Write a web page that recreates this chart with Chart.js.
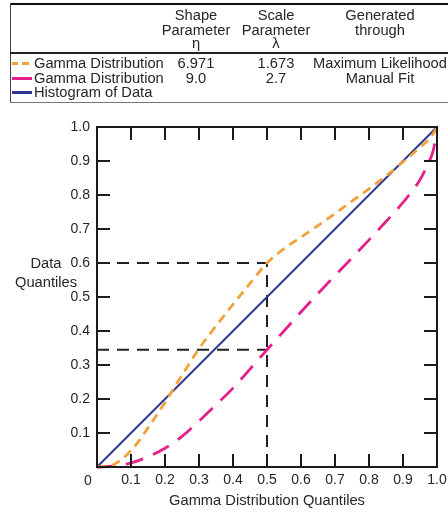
<!DOCTYPE html>
<html><head><meta charset="utf-8">
<script src="https://cdn.jsdelivr.net/npm/chart.js@4.4.0/dist/chart.umd.min.js"></script>
<style>
html,body{margin:0;padding:0;background:#fff;}
#wrap{position:relative;width:448px;height:512px;overflow:hidden;font-family:"Liberation Sans",Arial,sans-serif;color:#262626;}
canvas{position:absolute;left:0;top:0;}
.t{position:absolute;font-size:14.7px;line-height:14px;white-space:nowrap;}
.c{transform:translateX(-50%);}
.ln{position:absolute;}
</style></head><body>
<div id="wrap"><canvas id="c" width="448" height="512"></canvas><div id="legend"></div></div>
<script>
// ---- data ----
const quantileX = [0, 0.05, 0.1, 0.15, 0.2, 0.25, 0.3, 0.35, 0.4, 0.45, 0.5, 0.55, 0.6, 0.65, 0.7, 0.75, 0.8, 0.85, 0.9, 0.95, 0.975, 0.99, 1.0];
const mlFitY = [0, 0.008, 0.048, 0.115, 0.19, 0.27, 0.348, 0.415, 0.478, 0.54, 0.6, 0.642, 0.676, 0.71, 0.745, 0.782, 0.818, 0.856, 0.897, 0.94, 0.963, 0.982, 1.0];
const manualFitY = [0, 0.003, 0.012, 0.03, 0.055, 0.09, 0.135, 0.183, 0.232, 0.288, 0.345, 0.4, 0.456, 0.51, 0.563, 0.615, 0.668, 0.722, 0.778, 0.845, 0.895, 0.935, 1.0];
const histX = [0, 1];
const histY = [0, 1];
const guideX = 0.5;
const guideLevels = [0.6, 0.345];
const tickValues = [0, 0.1, 0.2, 0.3, 0.4, 0.5, 0.6, 0.7, 0.8, 0.9, 1.0];

const legendNames = ['Gamma Distribution', 'Gamma Distribution', 'Histogram of Data'];
const shapeParams = ['6.971', '9.0', ''];
const scaleParams = ['1.673', '2.7', ''];
const generatedBy = ['Maximum Likelihood', 'Manual Fit', ''];
const headers = [['Shape', 'Parameter', 'η'], ['Scale', 'Parameter', 'λ'], ['Generated', 'through']];
const xTitle = 'Gamma Distribution Quantiles';
const yTitleLines = ['Data', 'Quantiles'];
const cornerLabel = '0';

// ---- styles ----
const ORANGE = '#f2a13c', MAGENTA = '#e6208a', NAVY = '#2b3790', INK = '#262626';
const FONT = '"Liberation Sans", Arial, sans-serif';

// ---- legend table (HTML) ----
const lg = document.getElementById('legend');
function box(l, t, w, h, col) { const d = document.createElement('div'); d.className = 'ln'; Object.assign(d.style, {left: l + 'px', top: t + 'px', width: w + 'px', height: h + 'px', background: col}); lg.appendChild(d); return d; }
function txt(s, x, cy, center) { const d = document.createElement('div'); d.className = 't' + (center ? ' c' : ''); d.textContent = s; d.style.left = x + 'px'; d.style.top = (cy - 7) + 'px'; lg.appendChild(d); }
box(10, 3, 450, 2, '#111');
box(10, 3, 1, 100, '#444');
box(10, 52, 450, 2, '#222');
box(10, 102, 450, 1, '#777');
const colX = [196, 276, 380];
const headY = [15, 30, 43];
headers.forEach((h, i) => h.forEach((s, j) => txt(s, colX[i], headY[j], true)));
const rowY = [63, 78, 92];
// legend symbols
box(12, 62, 6, 2.5, ORANGE); box(22, 62, 7, 2.5, ORANGE);
box(12, 77, 20, 3, MAGENTA);
box(12, 91, 20, 2.5, NAVY);
legendNames.forEach((s, i) => {
  txt(s, 34, rowY[i], false);
  if (shapeParams[i]) txt(shapeParams[i], colX[0], rowY[i], true);
  if (scaleParams[i]) txt(scaleParams[i], colX[1], rowY[i], true);
  if (generatedBy[i]) txt(generatedBy[i], colX[2], rowY[i], true);
});

// ---- chart ----
const pts = (xs, ys) => xs.map((x, i) => ({x, y: ys[i]}));
const guideSets = guideLevels.map(lv => ({
  data: [{x: 0, y: lv}, {x: guideX, y: lv}],
  borderColor: '#222', borderWidth: 2, borderDash: [12, 8], pointRadius: 0, showLine: true, order: 5
}));
guideSets.push({
  data: [{x: guideX, y: 0}, {x: guideX, y: guideLevels[0]}],
  borderColor: '#222', borderWidth: 2, borderDash: [12, 8], pointRadius: 0, showLine: true, order: 5
});

const fmt = v => Math.abs(v) < 1e-9 ? '' : Number(v).toFixed(1);

const framePlugin = {
  id: 'frame',
  afterDraw(chart) {
    const {ctx, chartArea: a, scales: {x, y}} = chart;
    ctx.save();
    ctx.strokeStyle = '#1a1a1a';
    ctx.lineWidth = 2;
    ctx.strokeRect(a.left, a.top, a.right - a.left, a.bottom - a.top);
    const L = 13;
    ctx.beginPath();
    x.ticks.forEach(t => {
      if (t.value < 1e-9 || t.value > 1 - 1e-9) return;
      const px = Math.round(x.getPixelForValue(t.value));
      ctx.moveTo(px, a.bottom); ctx.lineTo(px, a.bottom - L);
      ctx.moveTo(px, a.top); ctx.lineTo(px, a.top + L);
    });
    y.ticks.forEach(t => {
      if (t.value < 1e-9 || t.value > 1 - 1e-9) return;
      const py = Math.round(y.getPixelForValue(t.value));
      ctx.moveTo(a.left, py); ctx.lineTo(a.left + L, py);
      ctx.moveTo(a.right, py); ctx.lineTo(a.right - L, py);
    });
    ctx.stroke();
    ctx.fillStyle = INK;
    ctx.textAlign = 'center';
    ctx.textBaseline = 'middle';
    ctx.font = '14px ' + FONT;
    ctx.fillText(cornerLabel, a.left - 9, a.bottom + 14);
    ctx.font = '14.7px ' + FONT;
    ctx.fillText(yTitleLines[0], 46, 264);
    ctx.fillText(yTitleLines[1], 46, 283);
    ctx.restore();
  }
};

new Chart(document.getElementById('c'), {
  type: 'scatter',
  data: {
    datasets: [
      {label: 'Gamma Distribution (ML)', data: pts(quantileX, mlFitY), borderColor: ORANGE, borderWidth: 2.8, borderDash: [9, 6], showLine: true, pointRadius: 0, cubicInterpolationMode: 'monotone', order: 1},
      {label: 'Gamma Distribution (Manual)', data: pts(quantileX, manualFitY), borderColor: MAGENTA, borderWidth: 2.8, borderDash: [18, 11], showLine: true, pointRadius: 0, cubicInterpolationMode: 'monotone', order: 2},
      {label: 'Histogram of Data', data: pts(histX, histY), borderColor: NAVY, borderWidth: 2, showLine: true, pointRadius: 0, order: 3},
      ...guideSets
    ]
  },
  options: {
    responsive: false,
    animation: false,
    devicePixelRatio: 1,
    clip: false,
    layout: {padding: {top: 127, left: 0, right: 11, bottom: 0}},
    plugins: {legend: {display: false}, tooltip: {enabled: false}},
    scales: {
      x: {
        type: 'linear', min: 0, max: 1,
        afterBuildTicks: s => { s.ticks = tickValues.map(v => ({value: v})); },
        afterFit: s => { s.height = 45; s.paddingLeft = 0; s.paddingRight = 0; },
        grid: {display: false, drawTicks: false},
        border: {display: false},
        ticks: {autoSkip: false, maxRotation: 0, padding: 5, color: INK, font: {family: FONT, size: 14}, callback: fmt},
        title: {display: true, text: xTitle, color: INK, font: {family: FONT, size: 14.7}, padding: {top: 0, bottom: 2}}
      },
      y: {
        type: 'linear', min: 0, max: 1,
        afterBuildTicks: s => { s.ticks = tickValues.map(v => ({value: v})); },
        afterFit: s => { s.width = 97; s.paddingTop = 0; s.paddingBottom = 0; },
        grid: {display: false, drawTicks: false},
        border: {display: false},
        ticks: {autoSkip: false, padding: 7, color: INK, font: {family: FONT, size: 14}, callback: fmt}
      }
    }
  },
  plugins: [framePlugin]
});
</script>
</body></html>
